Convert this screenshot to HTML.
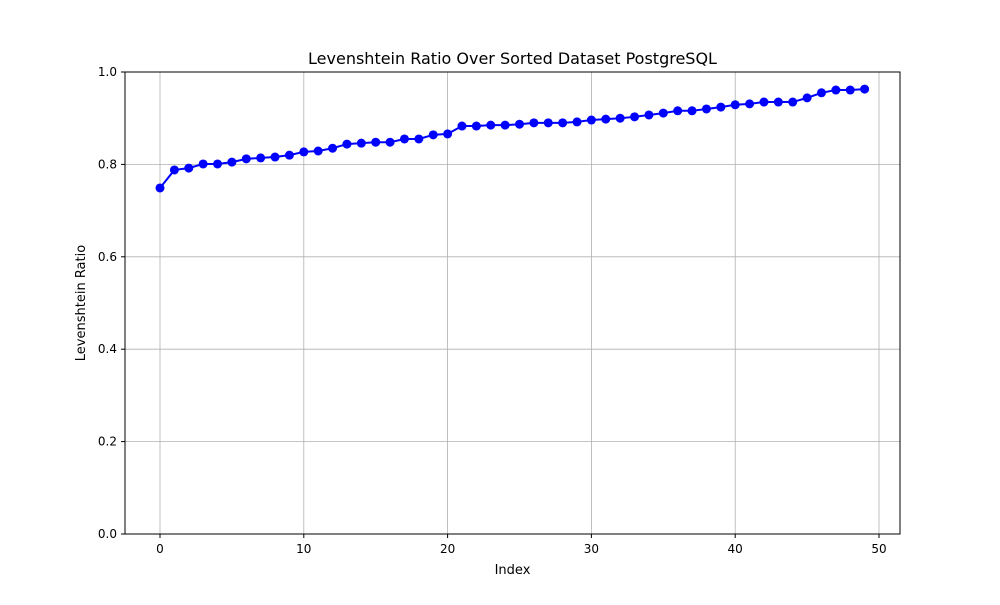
<!DOCTYPE html>
<html><head><meta charset="utf-8"><style>
body{margin:0;background:#fff;font-family:"Liberation Sans","DejaVu Sans",sans-serif}
svg text{font-family:"DejaVu Sans","Liberation Sans",sans-serif}
</style></head><body>
<svg id="chart" width="1000" height="600" viewBox="0 0 1000 600" xmlns="http://www.w3.org/2000/svg">
<rect width="1000" height="600" fill="#fff"/>
<g id="grid"></g>
<g id="marks"></g>
<rect x="125" y="72" width="775" height="462" fill="none" stroke="#000" stroke-width="1"/>
<g id="ticks"></g>
<text x="512.5" y="64" text-anchor="middle" font-size="16">Levenshtein Ratio Over Sorted Dataset PostgreSQL</text>
<text x="512.5" y="574" text-anchor="middle" font-size="13">Index</text>
<text x="85" y="303" text-anchor="middle" font-size="13" transform="rotate(-90 85 303)">Levenshtein Ratio</text>
</svg>
<script>
const values = [0.749,0.788,0.792,0.801,0.801,0.805,0.812,0.814,0.816,0.820,0.827,0.829,0.835,0.844,0.846,0.848,0.848,0.855,0.855,0.864,0.866,0.883,0.883,0.885,0.885,0.887,0.890,0.890,0.890,0.892,0.896,0.898,0.900,0.903,0.907,0.911,0.916,0.916,0.920,0.924,0.929,0.931,0.935,0.935,0.935,0.944,0.955,0.961,0.961,0.963];
const xTicks = [0,10,20,30,40,50];
const yTicks = [0.0,0.2,0.4,0.6,0.8,1.0];
const NS="http://www.w3.org/2000/svg";
const xS = v => 160 + v*(879-160)/50;
const yS = v => 534 - v*462;
const grid=document.getElementById('grid'), marks=document.getElementById('marks'), ticks=document.getElementById('ticks');
function mk(tag,attrs,parent){const e=document.createElementNS(NS,tag);for(const k in attrs)e.setAttribute(k,attrs[k]);parent.appendChild(e);return e;}
xTicks.forEach(t=>{
  const g=mk('line',{x1:xS(t),x2:xS(t),y1:72,y2:534,stroke:'#b0b0b0','stroke-width':0.8},grid);
  
  
  mk('line',{x1:xS(t),x2:xS(t),y1:534,y2:538,stroke:'#000'},ticks);
  const tx=mk('text',{x:xS(t),y:553,'text-anchor':'middle','font-size':12},ticks);
  tx.textContent=t;
  
  
});
yTicks.forEach(t=>{
  const g=mk('line',{x1:125,x2:900,y1:yS(t),y2:yS(t),stroke:'#b0b0b0','stroke-width':0.8},grid);
  
  
  mk('line',{x1:121,x2:125,y1:yS(t),y2:yS(t),stroke:'#000'},ticks);
  const tx=mk('text',{x:117,y:yS(t)+4,'text-anchor':'end','font-size':12},ticks);
  tx.textContent=t.toFixed(1);
  
  
});
const line=mk('polyline',{points:values.map((v,i)=>xS(i)+','+yS(v)).join(' '),fill:'none',stroke:'#0000ff','stroke-width':2},marks);


values.forEach((v,i)=>{
  const c=mk('circle',{cx:xS(i),cy:yS(v),r:4.5,fill:'#0000ff'},marks);
  
  
});
</script>
</body></html>
